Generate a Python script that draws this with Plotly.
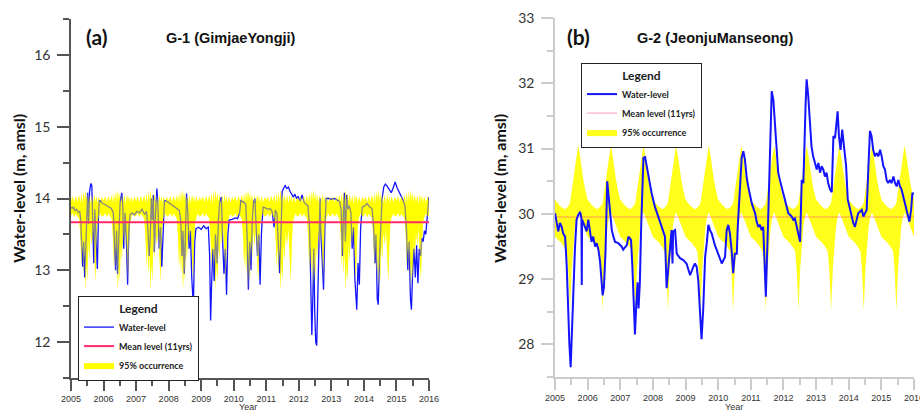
import plotly.graph_objects as go

YEARS = list(range(2005, 2017))
YEAR_LABELS = [str(y) for y in YEARS]

# ---------------- G-1 (GimjaeYongji) ----------------
G1_T = [2005.00, 2005.04, 2005.08, 2005.12, 2005.17, 2005.22, 2005.27, 2005.30, 2005.33, 2005.36,
        2005.39, 2005.42, 2005.45, 2005.48, 2005.51, 2005.54, 2005.57, 2005.61, 2005.64, 2005.67,
        2005.70, 2005.73, 2005.77, 2005.81, 2005.84, 2005.87, 2005.92, 2005.97, 2006.03, 2006.10,
        2006.17, 2006.24, 2006.30, 2006.34, 2006.37, 2006.40, 2006.43, 2006.47, 2006.51, 2006.56,
        2006.59, 2006.62, 2006.66, 2006.70, 2006.74, 2006.78, 2006.82, 2006.88, 2006.95, 2007.02,
        2007.10, 2007.18, 2007.26, 2007.32, 2007.36, 2007.40, 2007.43, 2007.47, 2007.50, 2007.53,
        2007.56, 2007.60, 2007.64, 2007.67, 2007.71, 2007.75, 2007.79, 2007.83, 2007.87, 2007.95,
        2008.05, 2008.15, 2008.25, 2008.33, 2008.37, 2008.41, 2008.44, 2008.48, 2008.52, 2008.55,
        2008.59, 2008.63, 2008.67, 2008.71, 2008.76, 2008.80, 2008.84, 2008.92, 2009.00, 2009.08,
        2009.15, 2009.22, 2009.26, 2009.29, 2009.32, 2009.36, 2009.40, 2009.44, 2009.49, 2009.53,
        2009.57, 2009.62, 2009.66, 2009.70, 2009.74, 2009.78, 2009.82, 2009.86, 2009.95, 2010.05,
        2010.12, 2010.18, 2010.22, 2010.30, 2010.37, 2010.41, 2010.45, 2010.49, 2010.53, 2010.57,
        2010.61, 2010.65, 2010.69, 2010.73, 2010.77, 2010.81, 2010.85, 2010.90, 2010.97, 2011.05,
        2011.12, 2011.18, 2011.24, 2011.28, 2011.33, 2011.37, 2011.41, 2011.45, 2011.49, 2011.54,
        2011.58, 2011.63, 2011.68, 2011.73, 2011.78, 2011.83, 2011.88, 2011.93, 2011.98, 2012.04,
        2012.10, 2012.16, 2012.22, 2012.28, 2012.33, 2012.36, 2012.40, 2012.43, 2012.46, 2012.49,
        2012.52, 2012.55, 2012.58, 2012.62, 2012.65, 2012.68, 2012.72, 2012.76, 2012.80, 2012.84,
        2012.92, 2013.00, 2013.10, 2013.18, 2013.25, 2013.30, 2013.34, 2013.37, 2013.40, 2013.43,
        2013.47, 2013.51, 2013.55, 2013.60, 2013.64, 2013.68, 2013.72, 2013.78, 2013.82, 2013.86,
        2013.90, 2013.95, 2014.03, 2014.10, 2014.18, 2014.25, 2014.30, 2014.34, 2014.37, 2014.41,
        2014.44, 2014.48, 2014.52, 2014.56, 2014.61, 2014.66, 2014.72, 2014.78, 2014.84, 2014.90,
        2014.96, 2015.02, 2015.08, 2015.14, 2015.20, 2015.26, 2015.31, 2015.35, 2015.39, 2015.43,
        2015.46, 2015.50, 2015.54, 2015.58, 2015.62, 2015.66, 2015.70, 2015.74, 2015.78, 2015.82,
        2015.86, 2015.90, 2015.94, 2015.97, 2016.00]
G1_V = [13.88, 13.86, 13.88, 13.83, 13.85, 13.81, 13.82, 13.70, 13.35, 13.05,
        13.40, 12.90, 13.25, 13.75, 14.08, 13.65, 14.10, 14.21, 14.18, 13.60,
        13.10, 13.85, 13.30, 13.02, 13.70, 13.97, 13.96, 13.93, 13.92, 13.90,
        13.88, 13.86, 13.80, 13.40, 13.00, 13.55, 12.95, 13.45, 13.95, 14.08,
        13.90, 13.30, 13.80, 13.45, 12.80, 13.60, 13.78, 13.80, 13.77, 13.82,
        13.80, 13.85, 13.78, 13.82, 13.60, 13.20, 13.40, 14.00, 13.70, 14.05,
        13.25, 13.80, 14.14, 13.90, 13.30, 13.60, 13.05, 13.50, 13.97, 13.96,
        13.93, 13.90, 13.86, 13.83, 13.70, 13.20, 13.55, 12.95, 13.65, 14.07,
        13.80, 13.30, 13.55, 12.90, 12.50, 13.40, 13.58, 13.60, 13.57, 13.62,
        13.58, 13.60, 13.20, 12.30, 12.80, 13.30, 12.85, 13.50, 13.10, 13.70,
        13.95, 14.02, 13.40, 12.95, 13.30, 12.66, 13.50, 13.70, 13.71, 13.73,
        13.72, 13.80, 13.97, 13.95, 13.92, 13.50, 12.73, 13.40, 13.00, 13.70,
        13.95, 14.00, 13.60, 13.20, 13.50, 12.80, 13.50, 13.88, 13.87, 13.85,
        13.86, 13.82, 13.60, 13.84, 13.78, 13.40, 12.96, 13.50, 14.10, 14.15,
        14.18, 14.14, 14.16, 14.10, 14.05, 14.02, 14.06, 14.00, 14.03, 13.96,
        14.05, 13.95, 13.92, 13.90, 13.60, 12.80, 12.10, 12.60, 13.30, 12.40,
        12.00, 11.95, 12.70, 13.60, 14.00, 13.50, 13.00, 12.73, 13.60, 14.00,
        14.00, 13.99, 14.00, 13.98, 13.96, 13.85, 13.20, 13.80, 14.08, 13.40,
        14.05, 13.85, 13.90, 13.80, 13.30, 13.60, 12.90, 12.45, 13.10, 12.80,
        13.60, 13.88, 13.90, 13.93, 13.88, 13.86, 13.60, 13.10, 13.50, 12.60,
        12.52, 13.20, 13.70, 14.00, 14.16, 14.20, 14.17, 14.12, 14.08, 14.15,
        14.23, 14.15, 14.10, 14.05, 13.98, 13.90, 13.55, 13.00, 13.40, 12.60,
        12.45, 13.00, 13.30, 12.90, 13.35, 12.82, 13.30, 13.20, 13.45, 13.40,
        13.55, 13.50, 13.75, 13.95, 14.02]
G1_MEAN = 13.67
# 95% occurrence envelope by fraction of year (same each year)
G1_BAND_DOY = [0.00, 0.05, 0.10, 0.15, 0.20, 0.25, 0.29, 0.32, 0.35, 0.38, 0.41, 0.44, 0.47, 0.50,
               0.53, 0.56, 0.60, 0.64, 0.68, 0.72, 0.75, 0.78, 0.81, 0.85, 0.90, 0.95, 1.00]
G1_BAND_HI = [13.97, 14.03, 13.94, 14.04, 13.95, 14.05, 13.93, 14.08, 13.92, 14.10, 13.95, 14.12, 13.96, 14.08,
              13.94, 14.06, 13.93, 14.05, 13.92, 14.06, 13.95, 14.04, 13.93, 14.03, 13.94, 14.02, 13.97]
G1_BAND_LO = [13.76, 13.80, 13.74, 13.79, 13.75, 13.72, 13.45, 13.05, 13.35, 12.95, 13.30, 12.72, 13.10, 12.85,
              13.40, 13.15, 13.55, 13.35, 13.60, 13.10, 12.85, 13.30, 13.65, 13.74, 13.79, 13.75, 13.76]

# ---------------- G-2 (JeonjuManseong) ----------------
G2_T = [2005.00, 2005.05, 2005.10, 2005.15, 2005.20, 2005.25, 2005.31, 2005.36, 2005.41, 2005.44,
        2005.48, 2005.51, 2005.56, 2005.61, 2005.66, 2005.71, 2005.77, 2005.81, 2005.82, 2005.83,
        2005.87, 2005.97, 2006.02, 2006.07, 2006.12, 2006.17, 2006.23, 2006.28, 2006.33, 2006.38,
        2006.43, 2006.46, 2006.50, 2006.55, 2006.60, 2006.63, 2006.69, 2006.74, 2006.79, 2006.84,
        2006.94, 2007.04, 2007.09, 2007.20, 2007.25, 2007.33, 2007.37, 2007.42, 2007.45, 2007.49,
        2007.53, 2007.56, 2007.60, 2007.64, 2007.71, 2007.76, 2007.86, 2007.96, 2008.06, 2008.17,
        2008.27, 2008.37, 2008.42, 2008.52, 2008.57, 2008.60, 2008.62, 2008.68, 2008.73, 2008.83,
        2008.93, 2009.03, 2009.14, 2009.24, 2009.29, 2009.34, 2009.39, 2009.44, 2009.49, 2009.54,
        2009.60, 2009.65, 2009.70, 2009.75, 2009.80, 2009.90, 2010.01, 2010.11, 2010.21, 2010.26,
        2010.31, 2010.36, 2010.41, 2010.46, 2010.51, 2010.57, 2010.60, 2010.67, 2010.72, 2010.77,
        2010.82, 2010.87, 2010.92, 2011.03, 2011.13, 2011.18, 2011.23, 2011.28, 2011.33, 2011.38,
        2011.43, 2011.46, 2011.54, 2011.59, 2011.64, 2011.69, 2011.74, 2011.79, 2011.84, 2011.89,
        2011.94, 2012.05, 2012.15, 2012.25, 2012.30, 2012.35, 2012.40, 2012.46, 2012.51, 2012.56,
        2012.61, 2012.68, 2012.71, 2012.76, 2012.81, 2012.86, 2012.91, 2012.97, 2013.02, 2013.07,
        2013.12, 2013.17, 2013.22, 2013.27, 2013.32, 2013.37, 2013.43, 2013.48, 2013.53, 2013.58,
        2013.63, 2013.66, 2013.70, 2013.75, 2013.80, 2013.86, 2013.92, 2013.97, 2014.04, 2014.09,
        2014.14, 2014.19, 2014.24, 2014.29, 2014.40, 2014.45, 2014.50, 2014.55, 2014.60, 2014.65,
        2014.70, 2014.75, 2014.80, 2014.85, 2014.91, 2014.96, 2015.01, 2015.06, 2015.11, 2015.16,
        2015.21, 2015.26, 2015.31, 2015.37, 2015.42, 2015.47, 2015.52, 2015.57, 2015.62, 2015.67,
        2015.72, 2015.77, 2015.82, 2015.86, 2015.91, 2015.95, 2016.00]
G2_V = [30.01, 29.88, 29.73, 29.86, 29.81, 29.70, 29.65, 29.19, 28.27, 28.01,
        27.65, 28.06, 28.98, 29.45, 29.91, 29.98, 30.03, 29.93, 28.91, 29.91,
        29.86, 29.73, 29.91, 29.70, 29.57, 29.65, 29.50, 29.55, 29.45, 29.27,
        28.98, 28.75, 28.88, 29.45, 30.50, 30.32, 30.06, 29.75, 29.65, 29.57,
        29.55, 29.50, 29.45, 29.52, 29.65, 29.60, 29.20, 28.50, 28.15, 28.60,
        28.95, 28.55, 28.95, 29.80, 30.86, 30.87, 30.57, 30.32, 30.11, 29.96,
        29.80, 29.65, 28.86, 29.45, 29.75, 29.24, 29.73, 29.75, 29.39, 29.32,
        29.29, 29.24, 29.06, 29.19, 29.24, 29.19, 28.98, 28.52, 28.08, 28.52,
        29.34, 29.55, 29.83, 29.75, 29.70, 29.52, 29.37, 29.24, 29.34, 29.75,
        29.83, 29.70, 29.45, 29.09, 29.39, 29.39, 29.80, 30.42, 30.86, 30.96,
        30.83, 30.57, 30.42, 30.16, 30.01, 29.88, 29.80, 29.83, 29.75, 29.80,
        29.14, 28.73, 30.06, 31.19, 31.88, 31.75, 31.34, 30.93, 30.63, 30.52,
        30.42, 30.22, 30.01, 29.96, 29.91, 29.93, 29.80, 29.65, 29.57, 30.52,
        30.47, 31.70, 32.06, 31.80, 31.39, 31.03, 30.88, 30.78, 30.68, 30.78,
        30.63, 30.73, 30.68, 30.57, 30.63, 30.47, 30.37, 30.33, 31.19, 31.16,
        31.50, 31.57, 31.19, 30.98, 31.29, 30.98, 30.73, 30.22, 30.06, 29.96,
        29.86, 29.80, 29.91, 30.01, 30.06, 29.96, 30.01, 30.06, 30.68, 31.27,
        31.19, 30.98, 30.88, 30.93, 30.88, 30.98, 30.88, 30.73, 30.68, 30.52,
        30.47, 30.52, 30.47, 30.57, 30.47, 30.42, 30.52, 30.42, 30.37, 30.27,
        30.16, 30.06, 29.96, 29.88, 30.06, 30.31, 30.31]
G2_MEAN = 29.95
G2_BAND_DOY = [0.00, 0.10, 0.20, 0.30, 0.36, 0.41, 0.46, 0.51, 0.56, 0.61, 0.66, 0.71,
               0.77, 0.82, 0.87, 0.93, 1.00]
G2_BAND_HI = [30.22, 30.15, 30.10, 30.07, 30.09, 30.12, 30.17, 30.35, 30.55, 30.72, 30.90, 31.05,
              30.88, 30.68, 30.52, 30.36, 30.22]
G2_BAND_LO = [29.65, 29.60, 29.55, 29.48, 29.42, 29.10, 28.52, 29.14, 29.55, 29.80, 29.95, 30.02,
              29.95, 29.88, 29.80, 29.72, 29.65]


def tile(doy, vals):
    xs, ys = [], []
    for yr in YEARS[:-1]:
        for d, v in zip(doy[:-1], vals[:-1]):
            xs.append(yr + d)
            ys.append(v)
    xs.append(YEARS[-1] + doy[0])
    ys.append(vals[-1])
    return xs, ys


g1_bx, g1_lo = tile(G1_BAND_DOY, G1_BAND_LO)
_, g1_hi = tile(G1_BAND_DOY, G1_BAND_HI)
g2_bx, g2_lo = tile(G2_BAND_DOY, G2_BAND_LO)
_, g2_hi = tile(G2_BAND_DOY, G2_BAND_HI)

W, H = 920, 412
FONT = "Lato"
BLUE = "#1414ff"

fig = go.Figure()

# ---- left panel ----
fig.add_trace(go.Scatter(x=g1_bx, y=g1_lo, mode="lines", line=dict(width=0), showlegend=False,
                         hoverinfo="skip", xaxis="x", yaxis="y"))
fig.add_trace(go.Scatter(x=g1_bx, y=g1_hi, mode="lines", line=dict(width=0), fill="tonexty",
                         fillcolor="#ffff00", name="95% occurrence", legend="legend", legendrank=3,
                         xaxis="x", yaxis="y"))
fig.add_trace(go.Scatter(x=G1_T, y=G1_V, mode="lines", line=dict(color=BLUE, width=1.3),
                         name="Water-level", legend="legend", legendrank=1, xaxis="x", yaxis="y"))
fig.add_trace(go.Scatter(x=g1_bx, y=g1_lo, mode="lines", line=dict(width=0), showlegend=False,
                         hoverinfo="skip", xaxis="x", yaxis="y"))
fig.add_trace(go.Scatter(x=g1_bx, y=g1_hi, mode="lines", line=dict(width=0), fill="tonexty",
                         fillcolor="rgba(255,255,0,0.5)", showlegend=False, hoverinfo="skip",
                         xaxis="x", yaxis="y"))
fig.add_trace(go.Scatter(x=[YEARS[0], YEARS[-1]], y=[G1_MEAN, G1_MEAN], mode="lines",
                         line=dict(color="#ff2a6a", width=2), name="Mean level (11yrs)",
                         legend="legend", legendrank=2, xaxis="x", yaxis="y"))

# ---- right panel ----
fig.add_trace(go.Scatter(x=g2_bx, y=g2_lo, mode="lines", line=dict(width=0), showlegend=False,
                         hoverinfo="skip", xaxis="x2", yaxis="y2"))
fig.add_trace(go.Scatter(x=g2_bx, y=g2_hi, mode="lines", line=dict(width=0), fill="tonexty",
                         fillcolor="#ffff1a", name="95% occurrence", legend="legend2", legendrank=3,
                         xaxis="x2", yaxis="y2"))
fig.add_trace(go.Scatter(x=[YEARS[0], YEARS[-1]], y=[G2_MEAN, G2_MEAN], mode="lines",
                         line=dict(color="rgba(255,60,120,0.35)", width=1.5), name="Mean level (11yrs)",
                         legend="legend2", legendrank=2, xaxis="x2", yaxis="y2"))
fig.add_trace(go.Scatter(x=G2_T, y=G2_V, mode="lines", line=dict(color=BLUE, width=2),
                         name="Water-level", legend="legend2", legendrank=1, xaxis="x2", yaxis="y2"))


def xax(domain, anchor, col):
    return dict(domain=domain, anchor=anchor, range=[YEARS[0], YEARS[-1]], tickmode="array",
                tickvals=YEARS, ticktext=YEAR_LABELS, ticks="outside", ticklen=11, tickwidth=1.5,
                tickcolor=col, showline=True, linecolor=col, linewidth=1.5, showgrid=False,
                zeroline=False, tickfont=dict(family="Liberation Sans", size=9, color="#333"),
                minor=dict(dtick=0.5, tick0=YEARS[0], ticks="outside", ticklen=6, tickwidth=1.5,
                           tickcolor=col, showgrid=False),
                ticklabeloverflow="allow", automargin=False, fixedrange=True)


def yax(domain, anchor, rng, vals, col):
    return dict(domain=domain, anchor=anchor, range=rng, tickmode="array", tickvals=vals,
                ticktext=[str(v) for v in vals], ticks="outside", ticklen=12, tickwidth=1.5,
                tickcolor=col, showline=True, linecolor=col, linewidth=1.5, showgrid=False,
                zeroline=False, tickfont=dict(family=FONT, size=14, color="#333"),
                minor=dict(dtick=0.5, tick0=rng[0], ticks="outside", ticklen=6, tickwidth=1.5,
                           tickcolor=col, showgrid=False),
                ticklabelstandoff=4, automargin=False, fixedrange=True)


G1_YTICKS = [12, 13, 14, 15, 16]
G2_YTICKS = [28, 29, 30, 31, 32, 33]

legend_common = dict(xanchor="left", yanchor="top", bgcolor="white", bordercolor="#222",
                     borderwidth=1, font=dict(family=FONT, size=9, color="#222", weight="bold"),
                     title=dict(text="Legend", side="top center",
                                font=dict(family=FONT, size=12, color="#222", weight="bold")),
                     itemwidth=30, traceorder="normal", tracegroupgap=0)

fig.update_layout(
    width=W, height=H, margin=dict(l=0, r=0, t=0, b=0, autoexpand=False),
    paper_bgcolor="white", plot_bgcolor="white",
    xaxis=xax([71 / W, 429 / W], "y", "#555"),
    yaxis=yax([1 - 378 / H, 1 - 19 / H], "x", [11.5, 16.5], G1_YTICKS, "#555"),
    xaxis2=xax([555 / W, 914 / W], "y2", "#cccccc"),
    yaxis2=yax([1 - 377 / H, 1 - 18 / H], "x2", [27.5, 33], G2_YTICKS, "#cccccc"),
    legend=dict(x=78 / W, y=1 - 296 / H, **legend_common),
    legend2=dict(x=581 / W, y=1 - 63 / H, **legend_common),
    showlegend=True,
)

ann = [
    dict(text="Water-level (m, amsl)", x=18 / W, y=1 - 189 / H, textangle=-90,
         font=dict(family=FONT, size=16, color="#111", weight="bold")),
    dict(text="Water-level (m, amsl)", x=499 / W, y=1 - 189 / H, textangle=-90,
         font=dict(family=FONT, size=16, color="#111", weight="bold")),
    dict(text="(a)", x=96 / W, y=1 - 37 / H, font=dict(family=FONT, size=21, color="#111", weight="bold")),
    dict(text="(b)", x=578 / W, y=1 - 37 / H, font=dict(family=FONT, size=21, color="#111", weight="bold")),
    dict(text="G-1 (GimjaeYongji)", x=231 / W, y=1 - 38 / H,
         font=dict(family="Liberation Sans", size=14.5, color="#111", weight="bold")),
    dict(text="G-2 (JeonjuManseong)", x=715 / W, y=1 - 38 / H,
         font=dict(family="Liberation Sans", size=14.5, color="#111", weight="bold")),
    dict(text="Year", x=248 / W, y=1 - 407 / H, font=dict(family="Liberation Sans", size=9, color="#333")),
    dict(text="Year", x=734 / W, y=1 - 407 / H, font=dict(family="Liberation Sans", size=9, color="#333")),
]
for a in ann:
    a.update(xref="paper", yref="paper", showarrow=False, xanchor="center", yanchor="middle")
fig.update_layout(annotations=ann)

fig.write_html("out.html", config={"displayModeBar": False},
               post_script="document.body.style.margin='0';document.body.style.overflow='hidden';")
